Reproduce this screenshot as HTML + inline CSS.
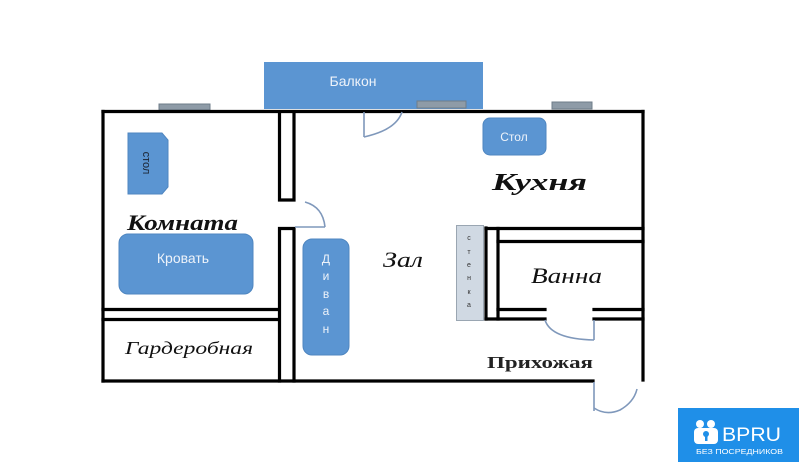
<!DOCTYPE html>
<html><head><meta charset="utf-8"><style>
html,body{margin:0;padding:0;background:#fff;}
svg{display:block;}
</style></head><body>
<svg width="799" height="462" viewBox="0 0 799 462" xmlns="http://www.w3.org/2000/svg">
<rect width="799" height="462" fill="#fff"/>
<!-- balcony -->
<rect x="264" y="62" width="219" height="47" fill="#5b95d2"/>
<text x="353" y="86" font-family="Liberation Sans, sans-serif" font-size="14" fill="#eef3fa" text-anchor="middle">Балкон</text>
<!-- windows -->
<rect x="159" y="104" width="51" height="6" fill="#8e9ba7" stroke="#6f7d8a" stroke-width="1"/>
<rect x="417" y="101" width="49" height="7" fill="#8e9ba7" stroke="#6f7d8a" stroke-width="1"/>
<rect x="552" y="102" width="40" height="7" fill="#8e9ba7" stroke="#6f7d8a" stroke-width="1"/>
<!-- outer walls -->
<g stroke="#000" stroke-width="3.2" fill="none" stroke-linecap="square">
<line x1="103" y1="111.5" x2="643" y2="111.5"/>
<line x1="103" y1="111.5" x2="103" y2="381"/>
<line x1="103" y1="381" x2="593" y2="381"/>
<line x1="643" y1="111.5" x2="643" y2="380"/>
<!-- interior wall komnata/zal -->
<polyline points="279.5,112 279.5,200 294,200 294,112"/>
<polyline points="279.5,381 279.5,228.5 294,228.5 294,381"/>
<!-- garderob -->
<line x1="103" y1="309.5" x2="279" y2="309.5"/>
<line x1="103" y1="319.5" x2="279" y2="319.5"/>
<!-- bathroom -->
<line x1="486" y1="228" x2="486" y2="319"/>
<line x1="498" y1="228.5" x2="498" y2="319"/>
<line x1="486" y1="228.5" x2="643" y2="228.5"/>
<line x1="498" y1="241.5" x2="643" y2="241.5"/>
<line x1="498" y1="309.5" x2="545" y2="309.5"/>
<line x1="486" y1="319" x2="545" y2="319"/>
<line x1="594" y1="309.5" x2="643" y2="309.5"/>
<line x1="594" y1="319" x2="643" y2="319"/>
</g>
<!-- doors -->
<g stroke="#7f98bb" stroke-width="1.6" fill="none">
<line x1="364" y1="112" x2="364" y2="137"/>
<path d="M364,137 Q396,130 402,112"/>
<line x1="295" y1="227" x2="325" y2="227"/>
<path d="M305,202 Q323,207 325,227"/>
<path d="M545,320 Q551,339 594,340"/>
<line x1="594" y1="320" x2="594" y2="340"/>
<line x1="594" y1="382" x2="594" y2="411"/>
<path d="M594,408 Q606,416 620,410 Q634,402 637,389"/>
</g>
<!-- furniture -->
<polygon points="128,133 162,133 168,140 168,187 162,194 128,194" fill="#5b95d2" stroke="#4f86c0" stroke-width="1"/>
<text x="0" y="0" font-family="Liberation Sans, sans-serif" font-size="11" fill="#1a2230" text-anchor="middle" transform="translate(143,163) rotate(90)">стол</text>
<rect x="483" y="118" width="63" height="37" rx="7" fill="#5b95d2" stroke="#4f86c0" stroke-width="1"/>
<text x="514" y="141" font-family="Liberation Sans, sans-serif" font-size="12" fill="#eef3fa" text-anchor="middle">Стол</text>
<rect x="119" y="234" width="134" height="60" rx="9" fill="#5b95d2" stroke="#4f86c0" stroke-width="1"/>
<text x="183" y="263" font-family="Liberation Sans, sans-serif" font-size="14" fill="#eef3fa" text-anchor="middle">Кровать</text>
<rect x="303" y="239" width="46" height="116" rx="9" fill="#5b95d2" stroke="#4f86c0" stroke-width="1"/>
<g font-family="Liberation Sans, sans-serif" font-size="12" fill="#eef3fa" text-anchor="middle">
<text x="326" y="263">Д</text>
<text x="326" y="280">и</text>
<text x="326" y="298">в</text>
<text x="326" y="315">а</text>
<text x="326" y="333">н</text>
</g>
<!-- stenka -->
<rect x="456.5" y="225.5" width="27" height="95" fill="#d0d9e3" stroke="#9aa6b2" stroke-width="1"/>
<g font-family="Liberation Sans, sans-serif" font-size="7" fill="#333" text-anchor="middle">
<text x="469" y="240">с</text>
<text x="469" y="254">т</text>
<text x="469" y="267">е</text>
<text x="469" y="280">н</text>
<text x="469" y="294">к</text>
<text x="469" y="307">а</text>
</g>
<!-- room labels -->
<g font-family="Liberation Serif, serif" fill="#111">
<text x="127" y="230" font-size="22" font-style="italic" font-weight="bold" textLength="111" lengthAdjust="spacingAndGlyphs">Комната</text>
<text x="492" y="190" font-size="24" font-style="italic" font-weight="bold" textLength="95" lengthAdjust="spacingAndGlyphs">Кухня</text>
<text x="383" y="267" font-size="22" font-style="italic" textLength="40" lengthAdjust="spacingAndGlyphs">Зал</text>
<text x="531" y="283" font-size="22" font-style="italic" textLength="71" lengthAdjust="spacingAndGlyphs">Ванна</text>
<text x="125" y="354" font-size="18" font-style="italic" textLength="128" lengthAdjust="spacingAndGlyphs">Гардеробная</text>
<text x="487" y="368" font-size="17" font-weight="bold" textLength="106" lengthAdjust="spacingAndGlyphs" fill="#222">Прихожая</text>
</g>
<!-- logo -->
<rect x="678" y="408" width="121" height="54" fill="#1f8fe8"/>
<circle cx="700" cy="424" r="4" fill="#fff"/>
<circle cx="711" cy="424" r="4" fill="#fff"/>
<rect x="694" y="428" width="24" height="16" rx="4" fill="#fff"/>
<circle cx="706" cy="434" r="3" fill="#1f8fe8"/>
<rect x="705" y="435" width="2.5" height="6" fill="#1f8fe8"/>
<text x="722" y="441" font-family="Liberation Sans, sans-serif" font-size="19" fill="#fff" textLength="59" lengthAdjust="spacingAndGlyphs">BPRU</text>
<text x="696" y="454" font-family="Liberation Sans, sans-serif" font-size="7.5" fill="#fff" textLength="87" lengthAdjust="spacingAndGlyphs">БЕЗ ПОСРЕДНИКОВ</text>
</svg>
</body></html>
